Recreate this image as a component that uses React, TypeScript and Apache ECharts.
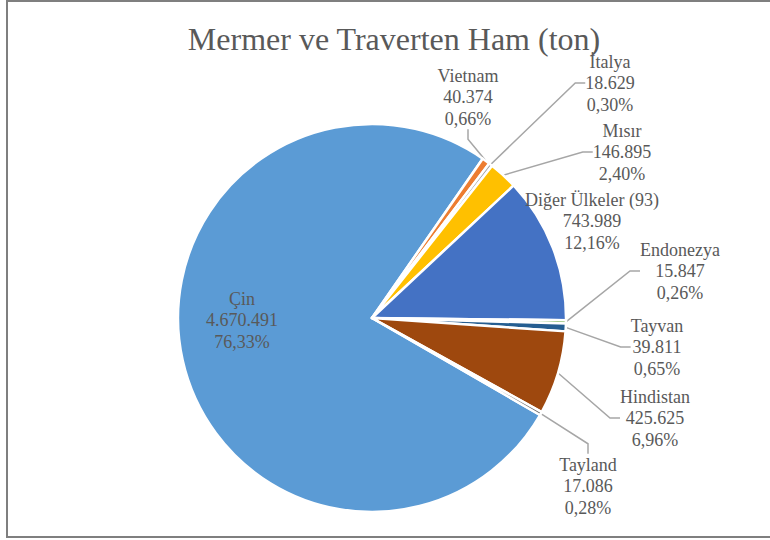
import React, { useEffect, useRef } from 'react';
import * as echarts from 'echarts';

const titleText = 'Mermer ve Traverten Ham (ton)';
const categories = ['Çin', 'Vietnam', 'İtalya', 'Mısır', 'Diğer Ülkeler (93)', 'Endonezya', 'Tayvan', 'Hindistan', 'Tayland'];
const values = [4670491, 40374, 18629, 146895, 743989, 15847, 39811, 425625, 17086];

const colors = ['#5B9BD5', '#ED7D31', '#A5A5A5', '#FFC000', '#4472C4', '#70AD47', '#255E91', '#9E480E', '#636363'];
// label centre positions (layout, px)
const labelPositions: [number, number][] = [
  [242, 320],
  [468, 97],
  [610, 83],
  [622, 152],
  [592, 221],
  [680, 271],
  [657, 347],
  [655, 418],
  [588, 486],
];
const showLeader = [false, true, true, true, false, true, true, true, true];

const SERIF = "'Liberation Serif', 'Times New Roman', Times, serif";

function fmtInt(n: number): string {
  return String(n).replace(/\B(?=(\d{3})+(?!\d))/g, '.');
}
function fmtPct(p: number): string {
  return p.toFixed(2).replace('.', ',');
}

export default function App() {
  const ref = useRef<HTMLDivElement>(null);
  useEffect(() => {
    if (!ref.current) return;
    const chart = echarts.init(ref.current, null, { renderer: 'svg' });
    const total = values.reduce((a, b) => a + b, 0);
    const data = categories.map((name, i) => ({
      name,
      value: values[i],
      itemStyle: { color: colors[i] },
      label: i === 0 ? { position: 'inside' } : undefined,
      labelLine: { show: showLeader[i] },
    }));
    chart.setOption({
      animation: false,
      backgroundColor: '#ffffff',
      graphic: [
        {
          type: 'rect',
          shape: { x: 7, y: 1, width: 800, height: 536 },
          style: { fill: 'none', stroke: '#7f7f7f', lineWidth: 2 },
          silent: true,
        },
        {
          type: 'text',
          x: 394,
          y: 39,
          style: {
            text: titleText,
            fontFamily: SERIF,
            fontSize: 32,
            fill: '#595959',
            textAlign: 'center',
            textVerticalAlign: 'middle',
          },
        },
      ],
      series: [
        {
          type: 'pie',
          center: [372, 318],
          radius: 194,
          startAngle: -30,
          clockwise: true,
          avoidLabelOverlap: false,
          itemStyle: { borderColor: '#ffffff', borderWidth: 2.5 },
          label: {
            show: true,
            position: 'outside',
            fontFamily: SERIF,
            fontSize: 18,
            lineHeight: 21.5,
            color: '#595959',
            align: 'center',
            formatter: (p: any) =>
              `${p.name}\n${fmtInt(p.value)}\n${fmtPct((p.value / total) * 100)}%`,
          },
          labelLine: {
            show: true,
            length: 10,
            length2: 10,
            lineStyle: { color: '#A6A6A6', width: 1.5 },
          },
          labelLayout: (params: any) => {
            const [x, y] = labelPositions[params.dataIndex];
            return { x, y, align: 'center', verticalAlign: 'middle' };
          },
          data,
        },
      ],
    });
    return () => chart.dispose();
  }, []);
  return (
    <div
      ref={ref}
      style={{ position: 'absolute', left: 0, top: 0, width: 770, height: 540 }}
    />
  );
}
